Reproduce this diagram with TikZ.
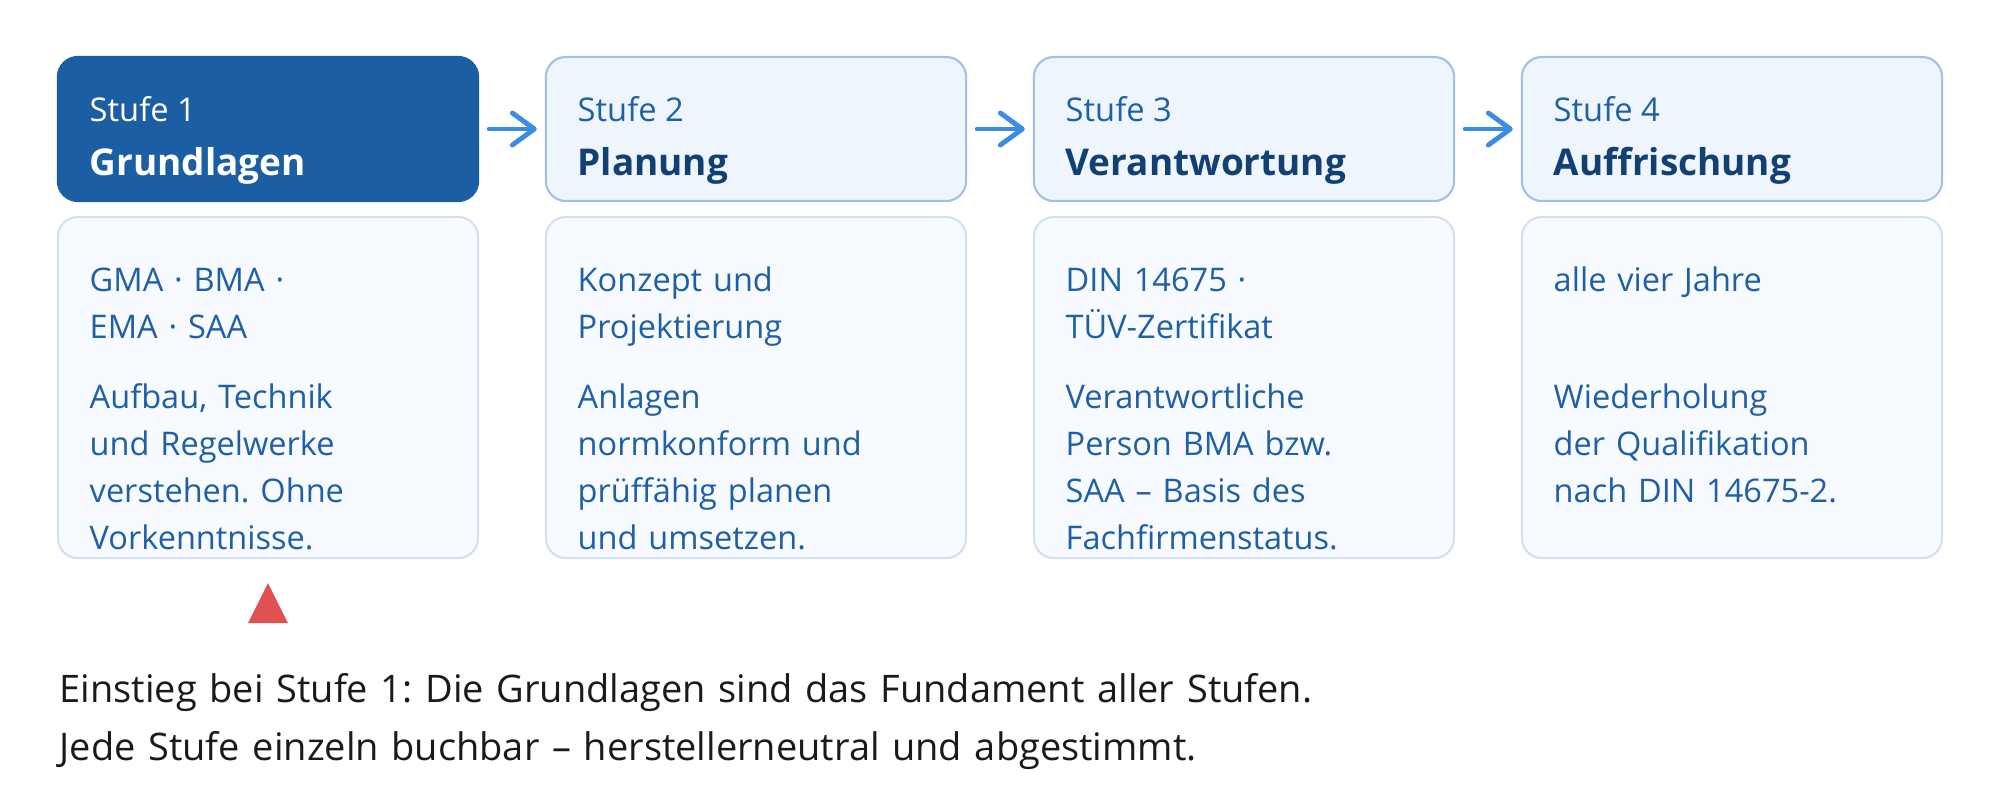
\documentclass[tikz,border=0pt]{standalone}
\usepackage{fontspec}
\setmainfont{Open Sans}
\usetikzlibrary{arrows.meta}
\frenchspacing

% Colours of the stage chart
\definecolor{stagedark}{RGB}{28,94,164}
\definecolor{headfill}{RGB}{239,245,253}
\definecolor{headline}{RGB}{163,193,226}
\definecolor{bodyfill}{RGB}{247,250,254}
\definecolor{bodyline}{RGB}{210,225,242}
\definecolor{stagetext}{RGB}{31,95,166}
\definecolor{titletext}{RGB}{18,64,115}
\definecolor{arrowblue}{RGB}{60,140,224}
\definecolor{markred}{RGB}{224,82,82}
\definecolor{notetext}{RGB}{26,26,26}

\begin{document}
\begin{tikzpicture}[x=0.01cm,y=-0.01cm,
    headbox/.style={rounded corners=0.2cm, minimum width=4.2cm, minimum height=1.44cm,
      draw=headline, fill=headfill, line width=0.6pt, inner sep=0pt},
    headfirst/.style={headbox, draw=stagedark, fill=stagedark},
    bodybox/.style={rounded corners=0.2cm, minimum width=4.2cm, minimum height=3.41cm,
      draw=bodyline, fill=bodyfill, line width=0.6pt, inner sep=0pt},
    stagelabel/.style={anchor=base west, inner sep=0pt, text=stagetext,
      font=\fontsize{9.3}{11}\selectfont},
    stagetitle/.style={anchor=base west, inner sep=0pt, text=titletext,
      font=\fontsize{10.5}{13}\selectfont\bfseries},
    bodytext/.style={anchor=base west, inner sep=0pt, text width=3.6cm, align=left,
      text=stagetext, font=\fontsize{9.25}{13.37}\selectfont},
    flow/.style={draw=arrowblue, line width=1.4pt, line cap=round,
      -{Straight Barb[length=0.22cm,width=0.32cm,round]},
      shorten <=0.1cm, shorten >=0.08cm}
  ]
  \useasboundingbox (0,0) rectangle (2000,806);

  % Drawing stage headers
  \node [headfirst] (h1) at (268,129) {};
  \node [headbox] (h2) at (756,129) {};
  \node [headbox] (h3) at (1244,129) {};
  \node [headbox] (h4) at (1732,129) {};

  % Drawing stage bodies
  \node [bodybox] (b1) at (268,387.5) {};
  \node [bodybox] (b2) at (756,387.5) {};
  \node [bodybox] (b3) at (1244,387.5) {};
  \node [bodybox] (b4) at (1732,387.5) {};

  % Arrows between the stages
  \draw [flow] (h1) -- (h2);
  \draw [flow] (h2) -- (h3);
  \draw [flow] (h3) -- (h4);

  % Header texts
  \node [stagelabel, text=white] (s1) at (89,121) {Stufe 1};
  \node [stagetitle, text=white] (n1) at (89,175) {Grundlagen};
  \node [stagelabel] (s2) at (577,121) {Stufe 2};
  \node [stagetitle] (n2) at (577,175) {Planung};
  \node [stagelabel] (s3) at (1065,121) {Stufe 3};
  \node [stagetitle] (n3) at (1065,175) {Verantwortung};
  \node [stagelabel] (s4) at (1553,121) {Stufe 4};
  \node [stagetitle] (n4) at (1553,175) {Auffrischung};

  % Body texts
  \node [bodytext] (t1) at (89,291) {GMA · BMA ·\\EMA · SAA};
  \node [bodytext] (d1) at (89,408) {Aufbau, Technik\\und Regelwerke\\verstehen. Ohne\\Vorkenntnisse.};
  \node [bodytext] (t2) at (577,291) {Konzept und\\Projektierung};
  \node [bodytext] (d2) at (577,408) {Anlagen\\normkonform und\\prüffähig planen\\und umsetzen.};
  \node [bodytext] (t3) at (1065,291) {DIN 14675 ·\\TÜV-Zertifikat};
  \node [bodytext] (d3) at (1065,408) {Verantwortliche\\Person BMA bzw.\\SAA – Basis des\\Fachfirmenstatus.};
  \node [bodytext] (t4) at (1553,291) {alle vier Jahre};
  \node [bodytext] (d4) at (1553,408) {Wiederholung\\der Qualifikation\\nach DIN 14675-2.};

  % Marker under stage 1
  \fill [markred] (268,583) -- (288,623) -- (248,623) -- cycle;

  % Note below the chart
  \node [anchor=base west, inner sep=0pt, text width=15cm, align=left, text=notetext,
    font=\fontsize{10.8}{16.5}\selectfont] (note) at (59,702)
    {Einstieg bei Stufe 1: Die Grundlagen sind das Fundament aller Stufen.\\
     Jede Stufe einzeln buchbar – herstellerneutral und abgestimmt.};
\end{tikzpicture}
\end{document}
